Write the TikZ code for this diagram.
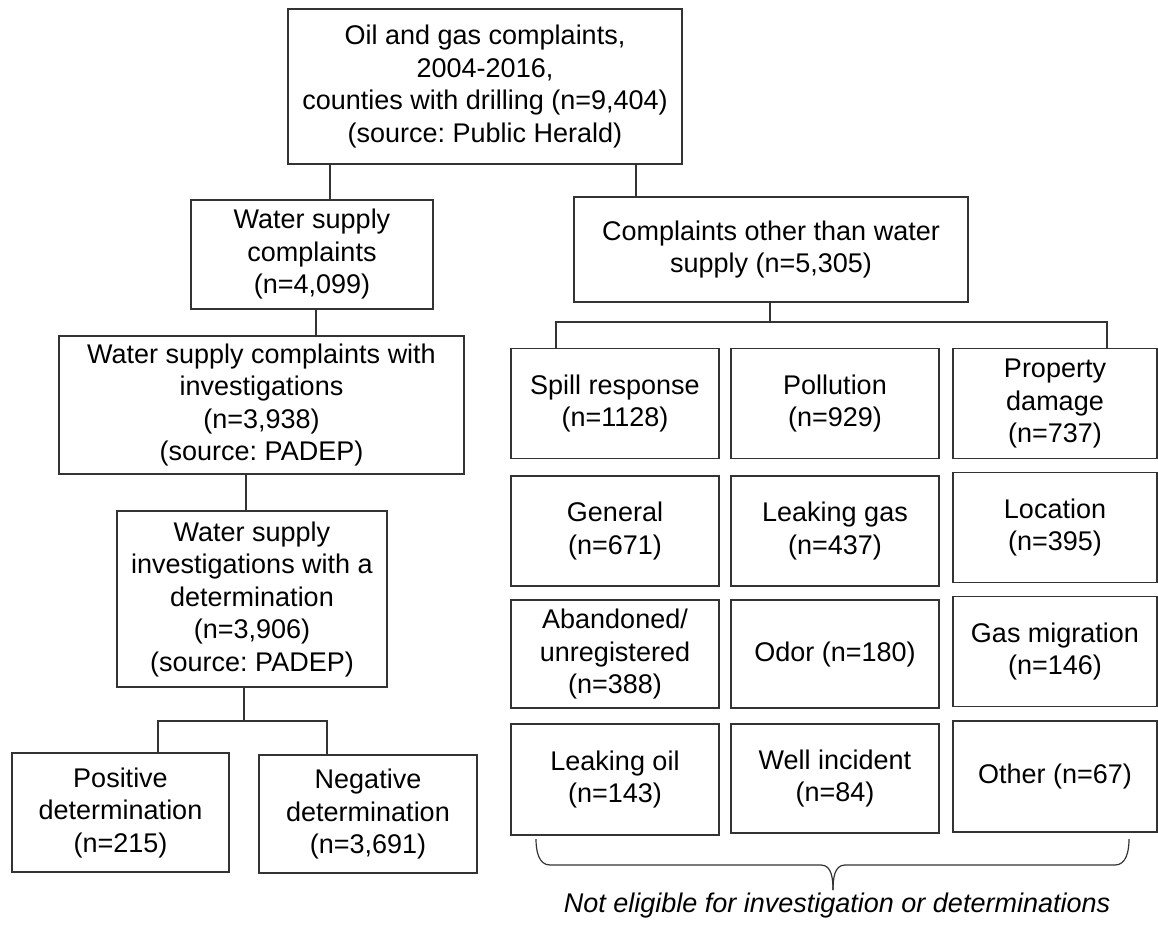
\documentclass[tikz,border=0pt]{standalone}
\usepackage{fontspec}
\setmainfont{Liberation Sans}
\usepackage{tikz}
\usetikzlibrary{calc}
\frenchspacing

\begin{document}
\begin{tikzpicture}[
  x=1pt, y=-1pt,
  line width=1.4pt,
  every node/.style = {shape=rectangle, draw=black!80, align=center, inner sep=0pt,
                       font=\fontsize{27}{32.5}\selectfont},
  cell/.style = {minimum width=208pt, minimum height=110pt},
  edge/.style = {draw=black!80, line width=1.4pt}
]
  \useasboundingbox (0,0) rectangle (1158,927);

  % left branch
  \node[minimum width=394pt, minimum height=155pt] (all) at (485,86.5)
    {Oil and gas complaints,\\2004-2016,\\counties with drilling (n=9,404)\\(source: Public Herald)};
  \node[minimum width=242pt, minimum height=109pt] (water) at (312,254.5)
    {Water supply\\complaints\\(n=4,099)};
  \node[minimum width=405pt, minimum height=138pt] (invest) at (261.5,405)
    {Water supply complaints with\\investigations\\(n=3,938)\\(source: PADEP)};
  \node[minimum width=270pt, minimum height=176pt] (determ) at (252,599)
    {Water supply\\investigations with a\\determination\\(n=3,906)\\(source: PADEP)};
  \node[minimum width=217pt, minimum height=119pt] (pos) at (120.5,812.5)
    {Positive\\determination\\(n=215)};
  \node[minimum width=218pt, minimum height=118pt] (neg) at (368,814)
    {Negative\\determination\\(n=3,691)};

  % right branch
  \node[minimum width=394pt, minimum height=105pt] (other) at (771,249.5)
    {Complaints other than water\\supply (n=5,305)};
  \node[cell] (spill)     at (615,403.5)  {Spill response\\(n=1128)};
  \node[cell] (pollution) at (835,403.5)  {Pollution\\(n=929)};
  \node[cell, minimum width=204pt] (property) at (1055,403.5) {Property\\damage\\(n=737)};
  \node[cell] (general)   at (615,531)    {General\\(n=671)};
  \node[cell] (leakgas)   at (835,531)    {Leaking gas\\(n=437)};
  \node[cell, minimum width=204pt] (location) at (1055,527.5) {Location\\(n=395)};
  \node[cell, minimum height=108pt] (abandoned) at (615,654) {Abandoned/\\unregistered\\(n=388)};
  \node[cell, minimum height=108pt] (odor)      at (835,654) {Odor (n=180)};
  \node[cell, minimum width=204pt] (gasmig) at (1055,651.5) {Gas migration\\(n=146)};
  \node[cell, minimum height=111pt] (leakoil)  at (615,779.5) {Leaking oil\\(n=143)};
  \node[cell, minimum height=109pt] (incident) at (835,778.5) {Well incident\\(n=84)};
  \node[cell, minimum width=204pt, minimum height=111pt] (othercat) at (1055,776.5) {Other (n=67)};

  % connectors
  \draw[edge] ([xshift=18pt]water.north) -- ([xshift=18pt]water.north |- all.south);
  \draw[edge] ([xshift=4pt]water.south) -- ([xshift=4pt]water.south |- invest.north);
  \draw[edge] ([xshift=-6pt]determ.north) -- ([xshift=-6pt]determ.north |- invest.south);
  \coordinate (dsplit) at (244,721);
  \draw[edge] (determ.south -| dsplit) -- (dsplit);
  \draw[edge] ([xshift=37.5pt]pos.north) |- (dsplit) -| ([xshift=-41pt]neg.north);

  \draw[edge] ([xshift=-135pt]other.north) -- ([xshift=-135pt]other.north |- all.south);
  \coordinate (osplit) at (770,322);
  \draw[edge] (other.south -| osplit) -- (osplit);
  \draw[edge] ([xshift=-59pt]spill.north) |- (osplit) -| ([xshift=52pt]property.north);

  % brace
  \coordinate (brl) at (536,839);
  \coordinate (brr) at (1129,839);
  \coordinate (brtip) at (833,890);
  \draw[edge, line width=1.2pt] (brl) to[out=-90,in=180] (550,865) -- (821,865)
    to[out=0,in=90] (brtip);
  \draw[edge, line width=1.2pt] (brr) to[out=-90,in=0] (1115,865) -- (845,865)
    to[out=180,in=90] (brtip);
  \node[draw=none, font=\fontsize{27}{30}\selectfont\itshape] (note) at (837,906)
    {Not eligible for investigation or determinations};
\end{tikzpicture}
\end{document}
